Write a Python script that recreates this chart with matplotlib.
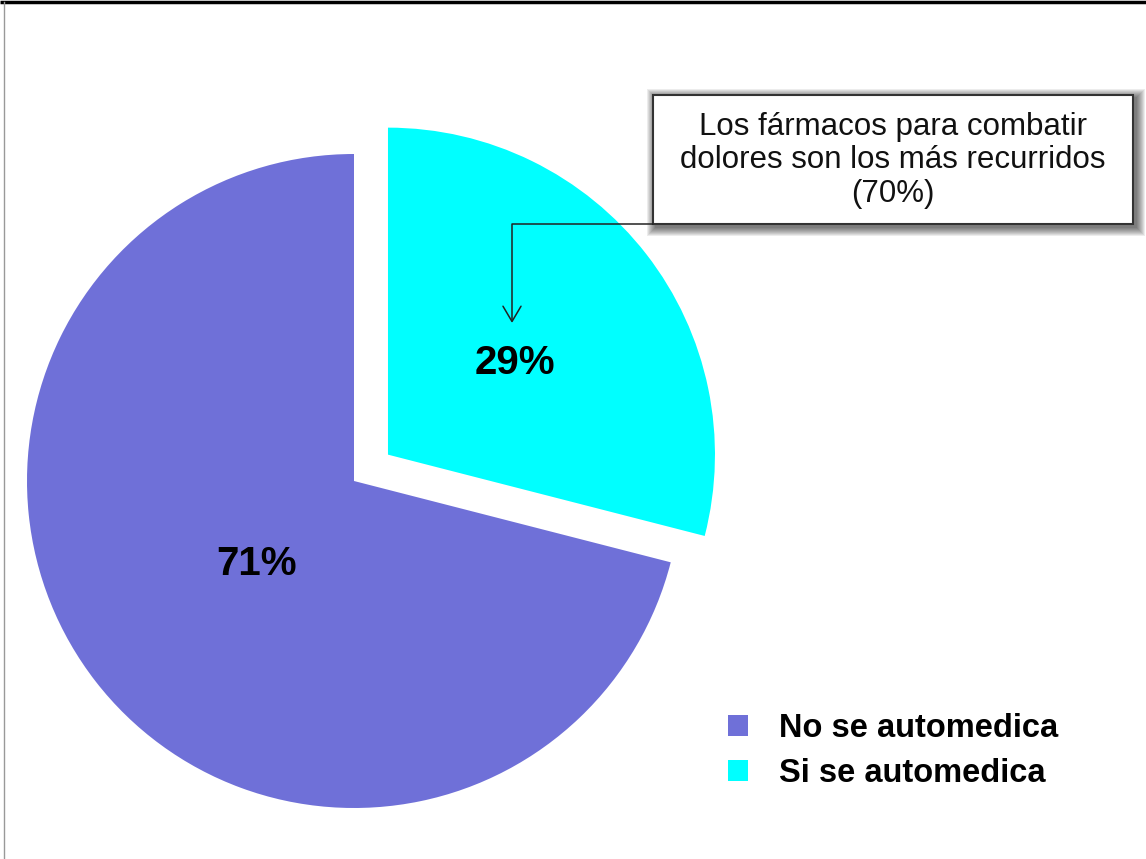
import matplotlib.pyplot as plt
from matplotlib.patches import Rectangle, Patch
import numpy as np

# datos de la encuesta
categorias = ["Si se automedica", "No se automedica"]
porcentajes = [29, 71]
colores = ["#00FFFF", "#6F70D8"]
nota = "Los fármacos para combatir\ndolores son los más recurridos\n(70%)"

W, H = 1146, 859

plt.rcParams["font.family"] = ["Liberation Sans", "DejaVu Sans"]

fig = plt.figure(figsize=(W / 100, H / 100), dpi=100)
ax = fig.add_axes([0, 0, 1, 1])

# pastel (coordenadas en pixeles, y hacia arriba)
centro = (354, H - 481)
radio = 327
wedges, _ = ax.pie(
    porcentajes,
    colors=colores,
    startangle=90,
    counterclock=False,
    explode=[43, 0],
    center=centro,
    radius=radio,
    frame=True,
    wedgeprops=dict(linewidth=0),
)

ax.set_xlim(0, W)
ax.set_ylim(0, H)
ax.set_aspect("equal")
ax.axis("off")

# etiquetas de porcentaje dentro de cada porcion
dist_etiqueta = [0.48, 0.39]
for w, v, d in zip(wedges, porcentajes, dist_etiqueta):
    ang = np.deg2rad((w.theta1 + w.theta2) / 2)
    cx, cy = w.center
    ax.text(cx + d * w.r * np.cos(ang) + 3, cy + d * w.r * np.sin(ang) - 16,
            f"{v}%", ha="center", va="baseline",
            fontsize=29, fontweight="bold", color="black")

# recuadro con sombra difusa
bx, by, bw, bh = 653, H - 224, 480, 129
for i in range(9, 0, -1):
    ax.add_patch(Rectangle((bx - i + 3, by - i - 3), bw + 2 * i, bh + 2 * i,
                           facecolor="black", edgecolor="none",
                           alpha=0.075, zorder=3))
ax.add_patch(Rectangle((bx, by), bw, bh, facecolor="white",
                       edgecolor="#333333", linewidth=1.5, zorder=4))
ax.text(bx + bw / 2, by + bh / 2 - 1, nota, ha="center", va="center",
        fontsize=22.5, linespacing=1.14, color="#111111", zorder=5)

# flecha hacia la porcion de automedicacion
ax.annotate("", xy=(512, H - 323), xytext=(bx, by),
            arrowprops=dict(arrowstyle="->,head_length=1.1,head_width=0.65",
                            connectionstyle="angle,angleA=180,angleB=90,rad=0",
                            color="#222222", lw=1.1,
                            shrinkA=0, shrinkB=0),
            zorder=5)

# leyenda
handles = [Patch(facecolor=colores[1], edgecolor="none", label=categorias[1]),
           Patch(facecolor=colores[0], edgecolor="none", label=categorias[0])]
ax.legend(handles=handles, loc="upper left",
          bbox_to_anchor=(728, H - 713), bbox_transform=ax.transData,
          frameon=False, borderpad=0, borderaxespad=0,
          handlelength=0.6, handleheight=0.6, handletextpad=0.95,
          labelspacing=0.42,
          prop=dict(family="Liberation Sans", weight="bold", size=23.5))

# bordes del marco
ax.plot([0, W], [H - 2, H - 2], color="black", lw=2.5, solid_capstyle="butt",
        clip_on=False)
ax.plot([4, 4], [0, H - 2], color="#999999", lw=1, clip_on=False)

fig.savefig("out.png", dpi=100)
